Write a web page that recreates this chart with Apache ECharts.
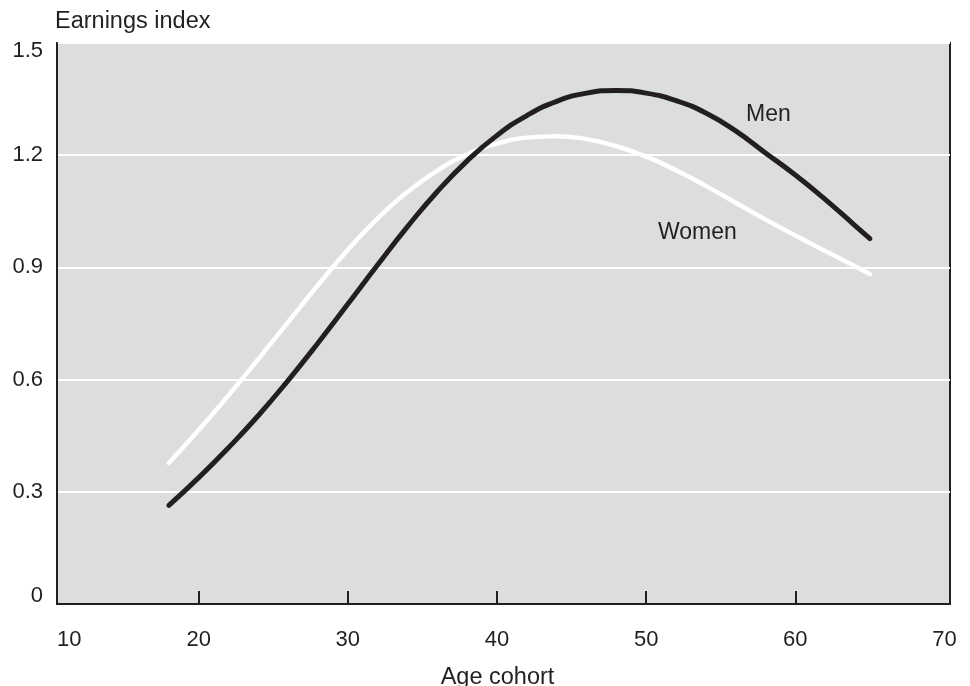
<!DOCTYPE html>
<html>
<head>
<meta charset="utf-8">
<script src="https://cdn.jsdelivr.net/npm/echarts@6/dist/echarts.min.js"></script>
<style>
html,body{margin:0;padding:0;background:#fff;}
#chart{width:970px;height:686px;}
</style>
</head>
<body>
<div id="chart"></div>
<script>
const ages  = [18,20,22,24,26,28,30,32,34,36,38,40,42,44,46,48,50,52,54,56,58,60,62,64,65];
const men   = [0.264,0.338,0.418,0.504,0.598,0.698,0.802,0.907,1.009,1.103,1.185,1.253,1.306,1.344,1.366,1.373,1.366,1.346,1.313,1.265,1.206,1.147,1.082,1.012,0.977];
const women = [0.377,0.465,0.558,0.655,0.754,0.853,0.947,1.031,1.102,1.159,1.202,1.231,1.247,1.251,1.243,1.224,1.196,1.160,1.118,1.073,1.028,0.985,0.944,0.903,0.882];
const xTickLabels = [10,20,30,40,50,60,70];
const xTickMarks = [20,30,40,50,60];
const xMin = 10.5, xMax = 70.37;

const FONT = '"Liberation Sans", Arial, Helvetica, sans-serif';
const INK = '#231f20';

const chart = echarts.init(document.getElementById('chart'));
const nearestLabel = v => xTickLabels.reduce((a,b)=>Math.abs(b-v)<Math.abs(a-v)?b:a);

chart.setOption({
  animation:false,
  textStyle:{fontFamily:FONT},
  grid:{left:57,top:43,width:893,height:561,containLabel:false,outerBoundsMode:'none',
        show:true,backgroundColor:'#dcdddf',borderColor:INK,borderWidth:2},
  xAxis:{
    type:'value', min:xMin, max:xMax,
    name:'Age cohort', nameLocation:'middle', nameGap:74,
    nameTextStyle:{fontSize:23.5,color:INK,fontFamily:FONT,verticalAlign:'middle',padding:[0,12,0,0]},
    axisLine:{show:true,lineStyle:{color:INK,width:2}},
    axisTick:{show:true,inside:true,length:13,lineStyle:{color:INK,width:2},customValues:xTickMarks},
    axisLabel:{fontSize:22,color:INK,fontFamily:FONT,margin:36,verticalAlign:'middle',
      customValues:xTickLabels.map(v=>Math.min(Math.max(v,xMin),xMax)),
      formatter:v=>String(nearestLabel(v)),alignMinLabel:'left'},
    splitLine:{show:false}
  },
  yAxis:{
    type:'value', min:0, max:1.5, interval:0.3,
    name:'Earnings index', nameLocation:'end', nameGap:21,
    nameTextStyle:{fontSize:23.5,color:INK,fontFamily:FONT,align:'left',verticalAlign:'middle',padding:[0,0,0,-2]},
    axisLine:{show:true,lineStyle:{color:INK,width:2}},
    axisTick:{show:false},
    axisLabel:{fontSize:22,color:INK,fontFamily:FONT,margin:14,lineHeight:16,
      verticalAlignMinLabel:'bottom',verticalAlignMaxLabel:'top'},
    splitLine:{show:true,lineStyle:{color:'#ffffff',width:2}}
  },
  series:[
    {name:'Women',type:'line',smooth:true,showSymbol:false,
     data:ages.map((a,i)=>[a,women[i]]),
     lineStyle:{color:'#ffffff',width:4.5,cap:'round'},z:3},
    {name:'Men',type:'line',smooth:true,showSymbol:false,
     data:ages.map((a,i)=>[a,men[i]]),
     lineStyle:{color:INK,width:5,cap:'round'},z:4}
  ],
  graphic:[
    {type:'text',left:746,top:103,style:{text:'Men',fontSize:23,fontFamily:FONT,fill:INK}},
    {type:'text',left:658,top:221,style:{text:'Women',fontSize:23,fontFamily:FONT,fill:INK}}
  ]
});
</script>
</body>
</html>
